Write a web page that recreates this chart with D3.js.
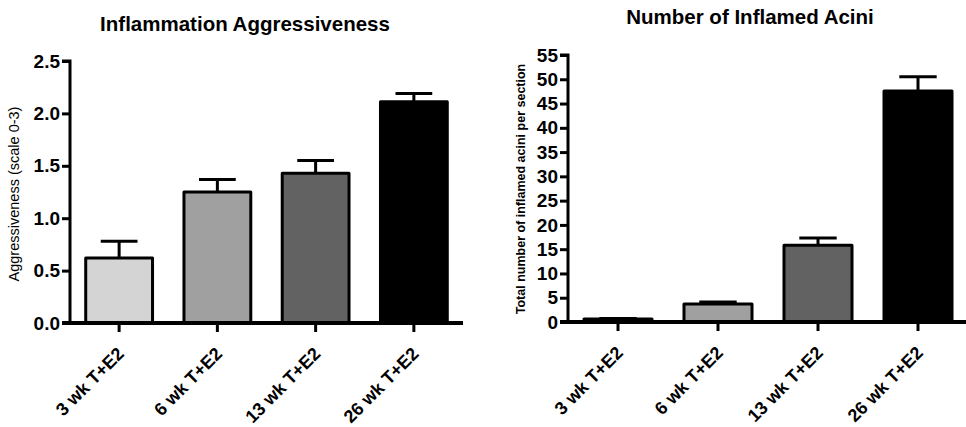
<!DOCTYPE html>
<html>
<head>
<meta charset="utf-8">
<script src="https://cdn.jsdelivr.net/npm/d3@7"></script>
<style>
body { margin: 0; background: #fff; }
text { font-family: "Liberation Sans", Arial, sans-serif; }
</style>
</head>
<body>
<script>
// groups on the x axis (same for both panels)
var groups = ["3 wk T+E2", "6 wk T+E2", "13 wk T+E2", "26 wk T+E2"]
var fills = ["#d4d4d4", "#a0a0a0", "#626262", "#000000"]

// panel 1 - aggressiveness
var aggrMean = [0.62, 1.25, 1.43, 2.11]
var aggrErr = [0.16, 0.12, 0.12, 0.08]
var aggrTicks = [0, 0.5, 1.0, 1.5, 2.0, 2.5]

// panel 2 - inflamed acini
var aciniMean = [0.6, 3.7, 15.8, 47.6]
var aciniErr = [0.1, 0.4, 1.5, 2.9]
var aciniTicks = [0, 5, 10, 15, 20, 25, 30, 35, 40, 45, 50, 55]

var svg = d3.select("body").append("svg")
    .attr("width", 966)
    .attr("height", 427)

//draw one bar panel
function drawPanel(opt) {
    var g = svg.append("g")

    var x = d3.scaleBand()
        .domain(groups)
        .range(opt.xr)
        .paddingInner(0.32)
        .paddingOuter(0.16)

    var y = d3.scaleLinear()
        .domain([0, opt.max])
        .range(opt.yr)

    // bars
    g.selectAll("rect.bar")
        .data(opt.mean)
        .enter()
        .append("rect")
        .attr("class", "bar")
        .attr("x", function(d, i) { return x(groups[i]) })
        .attr("y", function(d) { return y(d) })
        .attr("width", x.bandwidth())
        .attr("height", function(d) { return y(0) - y(d) })
        .attr("fill", function(d, i) { return fills[i] })
        .attr("stroke", "#000")
        .attr("stroke-width", 3)
        .attr("stroke-linejoin", "round")

    // error bars (upper only)
    var capW = x.bandwidth() * 0.55
    opt.mean.forEach(function(m, i) {
        var cx = x(groups[i]) + x.bandwidth() / 2
        g.append("line")
            .attr("x1", cx).attr("x2", cx)
            .attr("y1", y(m)).attr("y2", y(m + opt.err[i]))
            .attr("stroke", "#000").attr("stroke-width", 3)
        g.append("line")
            .attr("x1", cx - capW / 2).attr("x2", cx + capW / 2)
            .attr("y1", y(m + opt.err[i])).attr("y2", y(m + opt.err[i]))
            .attr("stroke", "#000").attr("stroke-width", 3)
    })

    // y axis
    var yAxis = g.append("g")
        .attr("transform", "translate(" + opt.xr[0] + ",0)")
        .call(d3.axisLeft(y).tickValues(opt.ticks).tickFormat(opt.fmt).tickSize(8).tickPadding(2))
    yAxis.select(".domain").attr("stroke-width", 3).attr("d", "M-8," + y(opt.max) + "H0V" + y(0))
    yAxis.selectAll(".tick line").attr("stroke-width", 3)
    yAxis.selectAll(".tick text")
        .attr("fill", "#000")
        .style("font-size", opt.tickFont + "px")
        .style("font-weight", "bold")

    // x axis
    var xAxis = g.append("g")
        .attr("transform", "translate(0," + y(0) + ")")
        .call(d3.axisBottom(x).tickSize(9).tickSizeOuter(0).tickFormat(""))
    xAxis.select(".domain").attr("stroke-width", 4).attr("d", "M" + (opt.xr[0] - 8) + ",0H" + opt.xEnd)
    xAxis.selectAll(".tick line").attr("stroke-width", 3)

    // rotated group labels
    g.selectAll("text.grp")
        .data(groups)
        .enter()
        .append("text")
        .attr("class", "grp")
        .attr("text-anchor", "end")
        .attr("transform", function(d) {
            return "translate(" + (x(d) + x.bandwidth() / 2 + 6) + "," + (y(0) + 32) + ") rotate(-45)"
        })
        .style("font-size", "18px")
        .style("font-weight", "bold")
        .text(function(d) { return d })

    // title
    g.append("text")
        .attr("x", opt.titleX)
        .attr("y", opt.titleY)
        .attr("text-anchor", "middle")
        .style("font-size", "20.5px")
        .style("font-weight", "bold")
        .text(opt.title)

    // y label
    g.append("text")
        .attr("transform", "translate(" + opt.labX + "," + opt.labY + ") rotate(-90)")
        .attr("text-anchor", "middle")
        .style("font-size", opt.labFont + "px")
        .style("font-weight", opt.labWeight)
        .text(opt.label)
}

drawPanel({
    mean: aggrMean, err: aggrErr, ticks: aggrTicks, max: 2.5,
    fmt: d3.format(".1f"),
    xr: [70, 463], xEnd: 463, yr: [323, 61],
    tickFont: 19,
    title: "Inflammation Aggressiveness", titleX: 245, titleY: 31,
    label: "Aggressiveness (scale 0-3)", labX: 19, labY: 194, labFont: 14.5, labWeight: "normal"
})

drawPanel({
    mean: aciniMean, err: aciniErr, ticks: aciniTicks, max: 55,
    fmt: d3.format("d"),
    xr: [568, 968], xEnd: 968, yr: [322, 55],
    tickFont: 19,
    title: "Number of Inflamed Acini", titleX: 750, titleY: 24,
    label: "Total number of inflamed acini per section", labX: 525, labY: 189, labFont: 12.5, labWeight: "bold"
})
</script>
</body>
</html>
